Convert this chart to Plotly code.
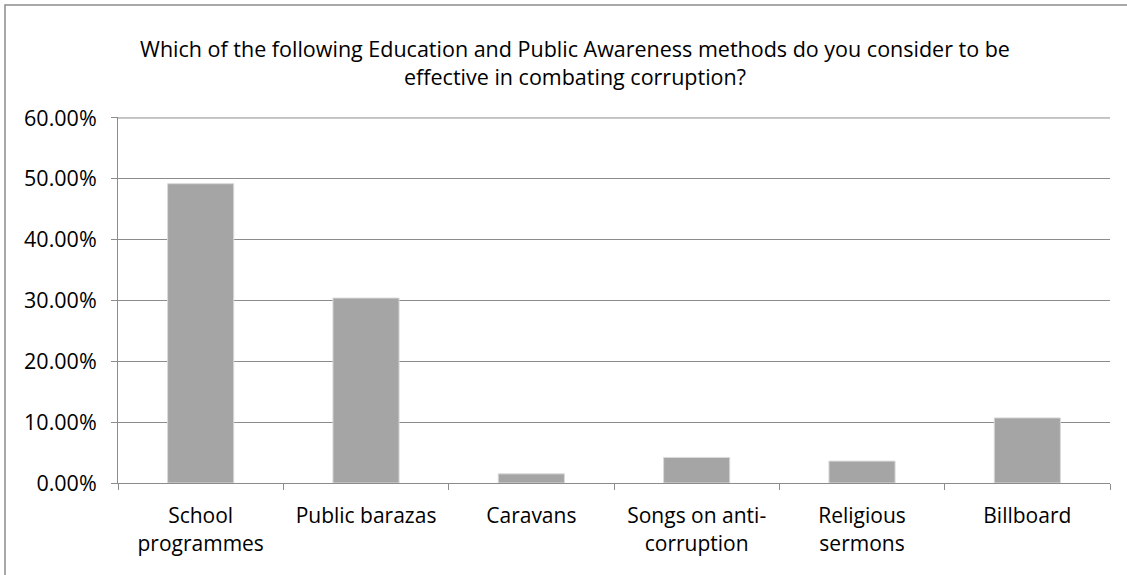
import plotly.graph_objects as go

categories = ["School<br>programmes", "Public barazas", "Caravans",
              "Songs on anti-<br>corruption", "Religious<br>sermons", "Billboard"]
values = [0.492, 0.304, 0.015, 0.042, 0.036, 0.107]
y_ticks = [0, 0.1, 0.2, 0.3, 0.4, 0.5, 0.6]
y_tick_labels = ["0.00%", "10.00%", "20.00%", "30.00%", "40.00%", "50.00%", "60.00%"]
title_text = ("Which of the following Education and Public Awareness methods do you consider to be"
              "<br>effective in combating corruption?")

W, H = 1127, 575
L, R, T, B = 118, 17, 117, 92
FONT = "'Open Sans', sans-serif"
GRID = "#8c8c8c"
Y_MAX = y_ticks[-1]

fig = go.Figure(go.Bar(
    x=categories, y=values,
    marker=dict(color="#a5a5a5", line=dict(color="#d9d9d9", width=1)),
))

pw = W - L - R
ph = H - T - B

fig.update_layout(
    width=W, height=H,
    margin=dict(l=L, r=R, t=T, b=B, pad=0),
    paper_bgcolor="white", plot_bgcolor="white",
    bargap=0.6,
    showlegend=False,
    font=dict(family=FONT, size=21, color="#000000"),
    title=dict(text=title_text, x=575 / W, xanchor="center",
               y=1 - 57 / H, yanchor="top",
               font=dict(family=FONT, size=21.5, color="#000000")),
    xaxis=dict(
        type="category", tickson="boundaries", ticks="outside", ticklen=6,
        tickcolor=GRID, showline=True, linecolor=GRID, linewidth=1,
        showgrid=False, tickfont=dict(size=21), fixedrange=True,
        ticklabelstandoff=14,
    ),
    yaxis=dict(
        range=[0, 0.6016], tickvals=y_ticks, ticktext=y_tick_labels,
        ticks="outside", ticklen=6, tickcolor=GRID,
        showline=True, linecolor=GRID, linewidth=1,
        showgrid=True, gridcolor=GRID, gridwidth=1, zeroline=False,
        tickfont=dict(size=21.5), fixedrange=True,
        ticklabelstandoff=10,
    ),
    shapes=[
        dict(
            type="rect", xref="paper", yref="paper",
            x0=(5 - L) / pw, x1=(W + 20 - L) / pw,
            y0=-(B + 20) / ph, y1=1 + (T - 5) / ph,
            line=dict(color="#8c8c8c", width=1.5), fillcolor="rgba(0,0,0,0)", layer="below",
        ),
        dict(
            type="line", xref="paper", yref="y",
            x0=0, x1=1, y0=Y_MAX, y1=Y_MAX,
            line=dict(color=GRID, width=1), layer="below",
        ),
    ],
)

fig.write_html("out.html")
